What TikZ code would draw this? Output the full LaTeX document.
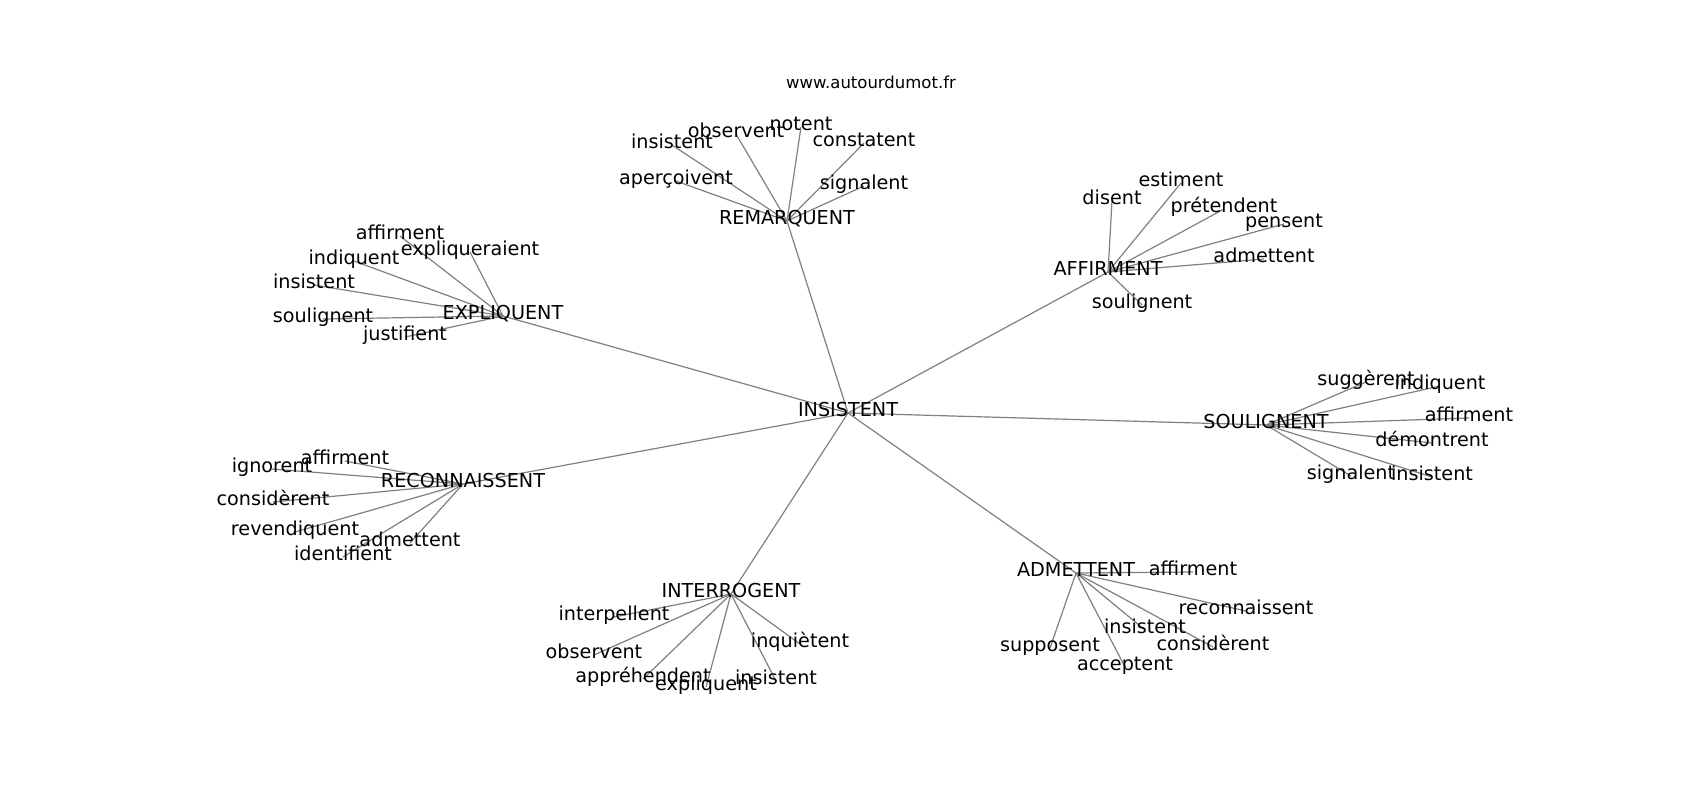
\documentclass[tikz,border=0pt]{standalone}
\usepackage{fontspec}
\setmainfont{DejaVu Sans}
\pgfdeclarelayer{bg}
\pgfsetlayers{bg,main}
\tikzset{
  lbl/.style={inner sep=0pt, outer sep=0pt, anchor=center, text height=13.4pt, text depth=5.8pt,
    font=\fontsize{19.2}{23}\selectfont, text=black},
  ttl/.style={inner sep=0pt, outer sep=0pt, anchor=center, text height=11.5pt, text depth=5pt,
    font=\fontsize{16.5}{20}\selectfont, text=black},
  edge/.style={draw=black!50, line width=1.2pt}
}
\begin{document}
\begin{tikzpicture}[x=1pt,y=-1pt]
\useasboundingbox (0,0) rectangle (1700,800);
\node[ttl] (t) at (871,85) {www.autourdumot.fr};
% hub
\node[lbl] (h) at (848,413) {INSISTENT};
% REMARQUENT
\node[lbl] (r) at (787,221) {REMARQUENT};
\node[lbl] (r1) at (672,145) {insistent};
\node[lbl] (r2) at (736,134) {observent};
\node[lbl] (r3) at (801,127) {notent};
\node[lbl] (r4) at (864,143) {constatent};
\node[lbl] (r5) at (864,186) {signalent};
\node[lbl] (r6) at (676,181) {aperçoivent};
% AFFIRMENT
\node[lbl] (a) at (1108,272) {AFFIRMENT};
\node[lbl] (a1) at (1112,201) {disent};
\node[lbl] (a2) at (1181,183) {estiment};
\node[lbl] (a3) at (1224,209) {prétendent};
\node[lbl] (a4) at (1284,224) {pensent};
\node[lbl] (a5) at (1264,259) {admettent};
\node[lbl] (a6) at (1142,305) {soulignent};
% EXPLIQUENT
\node[lbl] (e) at (503,316) {EXPLIQUENT};
\node[lbl] (e1) at (400,236) {affirment};
\node[lbl] (e2) at (470,252) {expliqueraient};
\node[lbl] (e3) at (354,261) {indiquent};
\node[lbl] (e4) at (314,285) {insistent};
\node[lbl] (e5) at (323,319) {soulignent};
\node[lbl] (e6) at (405,337) {justifient};
% RECONNAISSENT
\node[lbl] (c) at (463,484) {RECONNAISSENT};
\node[lbl] (c1) at (345,461) {affirment};
\node[lbl] (c2) at (272,469) {ignorent};
\node[lbl] (c3) at (273,502) {considèrent};
\node[lbl] (c4) at (295,532) {revendiquent};
\node[lbl] (c5) at (410,543) {admettent};
\node[lbl] (c6) at (343,557) {identifient};
% INTERROGENT
\node[lbl] (i) at (731,594) {INTERROGENT};
\node[lbl] (i1) at (614,617) {interpellent};
\node[lbl] (i2) at (594,655) {observent};
\node[lbl] (i3) at (643,679) {appréhendent};
\node[lbl] (i4) at (706,687) {expliquent};
\node[lbl] (i5) at (776,681) {insistent};
\node[lbl] (i6) at (800,644) {inquiètent};
% ADMETTENT
\node[lbl] (d) at (1076,573) {ADMETTENT};
\node[lbl] (d1) at (1193,572) {affirment};
\node[lbl] (d2) at (1246,611) {reconnaissent};
\node[lbl] (d3) at (1145,630) {insistent};
\node[lbl] (d4) at (1213,647) {considèrent};
\node[lbl] (d5) at (1050,648) {supposent};
\node[lbl] (d6) at (1125,667) {acceptent};
% SOULIGNENT
\node[lbl] (s) at (1266,425) {SOULIGNENT};
\node[lbl] (s1) at (1366,382) {suggèrent};
\node[lbl] (s2) at (1440,386) {indiquent};
\node[lbl] (s3) at (1469,418) {affirment};
\node[lbl] (s4) at (1432,443) {démontrent};
\node[lbl] (s5) at (1351,476) {signalent};
\node[lbl] (s6) at (1432,477) {insistent};
\begin{pgfonlayer}{bg}
\fill[white] (0,0) rectangle (1700,800);
\foreach \k in {r,a,e,c,i,d,s} \draw[edge] (h.center) -- (\k.center);
\foreach \k in {r,a,e,c,i,d,s} {
  \foreach \n in {1,...,6} \draw[edge] (\k.center) -- (\k\n.center);
}
\end{pgfonlayer}
\end{tikzpicture}
\end{document}
